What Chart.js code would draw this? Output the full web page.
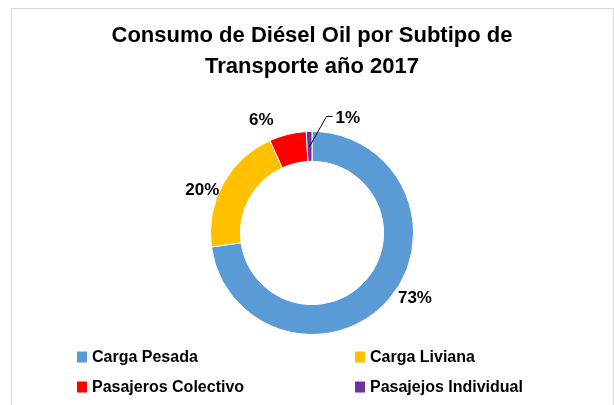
<!DOCTYPE html>
<html lang="es">
<head>
  <meta charset="UTF-8" />
  <title>Consumo de Diésel Oil por Subtipo de Transporte año 2017</title>
  <script src="https://cdn.jsdelivr.net/npm/chart.js"></script>
  <style>
    body {
      margin: 0;
      background: #ffffff;
    }
    #grafica {
      display: block;
    }
  </style>
</head>
<body>
  <canvas id="grafica" width="614" height="405"></canvas>

  <script>
    // datos
    const subtipos = ["Carga Pesada", "Carga Liviana", "Pasajeros Colectivo", "Pasajejos Individual"];
    const consumo = [72.8, 20.4, 5.9, 0.9];
    const colores = ["#5b9bd5", "#ffc000", "#ff0000", "#7030a0"];
    const titulo = ["Consumo de Diésel Oil por Subtipo de", "Transporte año 2017"];

    const fuente = "'Liberation Sans', Arial, sans-serif";

    // etiquetas de porcentaje alrededor del anillo
    const etiquetas = {
      id: "etiquetas",
      afterDatasetsDraw(chart, args, opts) {
        const ctx = chart.ctx;
        const meta = chart.getDatasetMeta(0);
        const total = consumo.reduce((a, b) => a + b, 0);
        ctx.save();
        ctx.font = "bold 17px " + fuente;
        ctx.fillStyle = "#000";
        ctx.textBaseline = "middle";
        meta.data.forEach((arc, i) => {
          const p = arc.getProps(["x", "y", "startAngle", "endAngle", "outerRadius", "innerRadius"], true);
          const mid = (p.startAngle + p.endAngle) / 2;
          const cos = Math.cos(mid), sin = Math.sin(mid);
          const pct = Math.round(consumo[i] / total * 100) + "%";
          const w = ctx.measureText(pct).width;

          if (consumo[i] / total < 0.03) {
            // sector pequeño: línea guía
            const r = (p.outerRadius + p.innerRadius) / 2;
            const x0 = p.x + cos * r, y0 = p.y + sin * r;
            const x1 = x0 + opts.guia[0], y1 = y0 + opts.guia[1];
            const x2 = x1 + opts.guia[2];
            ctx.strokeStyle = "#000";
            ctx.lineWidth = 1;
            ctx.beginPath();
            ctx.moveTo(x0, y0);
            ctx.lineTo(x1, y1);
            ctx.lineTo(x2, y1);
            ctx.stroke();
            ctx.textAlign = "left";
            ctx.fillText(pct, x2 + 3, y1 + 1.5);
            return;
          }

          const r = p.outerRadius + opts.gap;
          const n = opts.ajuste[i] || [0, 0];
          const cx = p.x + cos * r + cos * w / 2 + n[0];
          const cy = p.y + sin * r + sin * 8.5 + n[1];
          ctx.textAlign = "center";
          ctx.fillText(pct, cx, cy);
        });
        ctx.restore();
      }
    };

    // leyenda en dos columnas + borde del área
    const leyenda = {
      id: "leyenda",
      beforeDraw(chart) {
        const ctx = chart.ctx;
        ctx.save();
        ctx.strokeStyle = "#d9d9d9";
        ctx.lineWidth = 1;
        ctx.strokeRect(11.5, 8.5, 602, 420);
        ctx.restore();
      },
      afterDraw(chart, args, opts) {
        const ctx = chart.ctx;
        ctx.save();
        ctx.font = "bold 16px " + fuente;
        ctx.textBaseline = "middle";
        ctx.textAlign = "left";
        chart.data.labels.forEach((txt, i) => {
          const x = opts.columnas[i % 2];
          const y = opts.filas[Math.floor(i / 2)];
          ctx.fillStyle = chart.data.datasets[0].backgroundColor[i];
          ctx.fillRect(x, y - 5.5, 10, 11);
          ctx.fillStyle = "#000";
          ctx.fillText(txt, x + 15, y + 0.5);
        });
        ctx.restore();
      }
    };

    new Chart(document.getElementById("grafica"), {
      type: "doughnut",
      data: {
        labels: subtipos,
        datasets: [{
          data: consumo,
          backgroundColor: colores,
          borderColor: "#ffffff",
          borderWidth: 1,
          hoverOffset: 0
        }]
      },
      options: {
        responsive: false,
        animation: false,
        cutout: "70.5%",
        layout: { padding: { left: 10, bottom: 70 } },
        plugins: {
          legend: { display: false },
          tooltip: { enabled: false },
          title: {
            display: true,
            text: titulo,
            color: "#000",
            font: { family: fuente, size: 22, weight: "bold", lineHeight: 1.43 },
            padding: { top: 20, bottom: 48 }
          },
          etiquetas: {
            gap: 10,
            ajuste: [[6, -13], [3, 15], [-21, 4]],
            guia: [17, -30, 6]
          },
          leyenda: {
            columnas: [77, 355],
            filas: [357, 387]
          }
        }
      },
      plugins: [etiquetas, leyenda]
    });
  </script>
</body>
</html>
